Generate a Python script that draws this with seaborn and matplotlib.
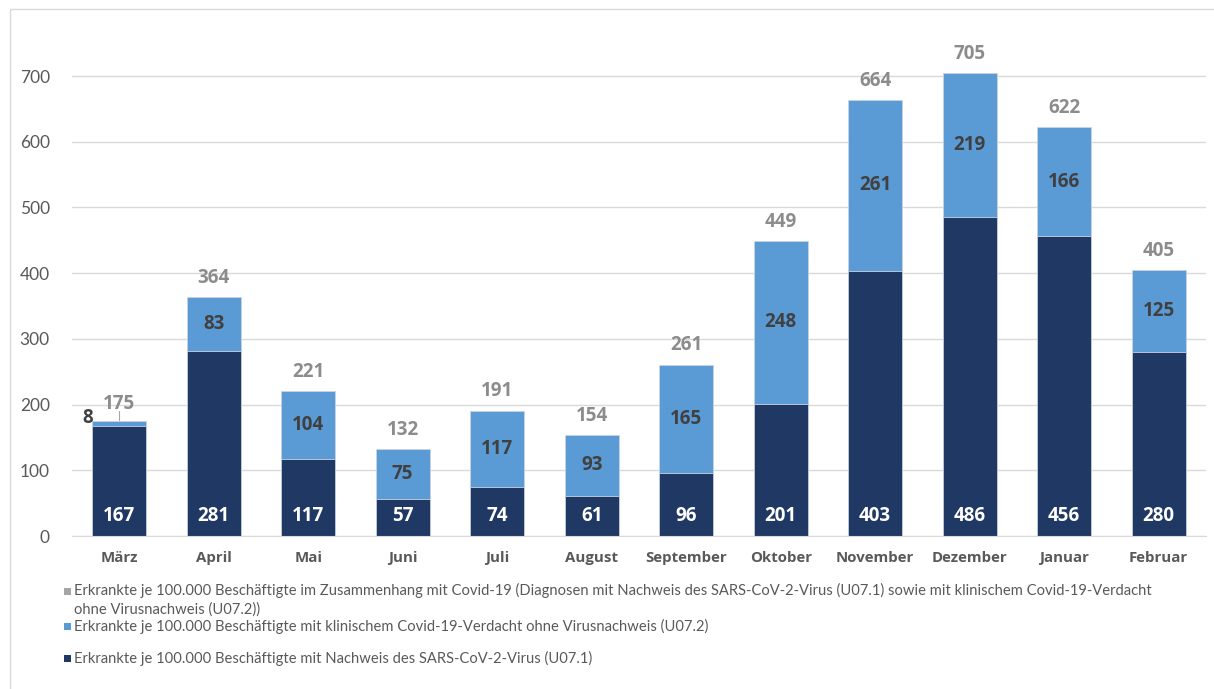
import matplotlib
matplotlib.use("Agg")
import matplotlib.pyplot as plt
import seaborn as sns
from matplotlib.patches import Rectangle

# Daten
monate = ['März', 'April', 'Mai', 'Juni', 'Juli', 'August', 'September',
          'Oktober', 'November', 'Dezember', 'Januar', 'Februar']
nachweis = [167, 281, 117, 57, 74, 61, 96, 201, 403, 486, 456, 280]      # U07.1
verdacht = [8, 83, 104, 75, 117, 93, 165, 248, 261, 219, 166, 125]      # U07.2
gesamt = [175, 364, 221, 132, 191, 154, 261, 449, 664, 705, 622, 405]

legende = [
    'Erkrankte je 100.000 Beschäftigte im Zusammenhang mit Covid-19 (Diagnosen mit Nachweis des SARS-CoV-2-Virus (U07.1) sowie mit klinischem Covid-19-Verdacht\nohne Virusnachweis (U07.2))',
    'Erkrankte je 100.000 Beschäftigte mit klinischem Covid-19-Verdacht ohne Virusnachweis (U07.2)',
    'Erkrankte je 100.000 Beschäftigte mit Nachweis des SARS-CoV-2-Virus (U07.1)',
]

dunkel = '#203864'
hell = '#5B9BD5'
grau = '#8C8C8C'

sns.set_style("white")
plt.rcParams['font.family'] = ['Lato', 'DejaVu Sans']
fett = ['Open Sans', 'DejaVu Sans']

fig = plt.figure(figsize=(12.14, 6.89), dpi=100)
ax = fig.add_axes([0.0593, 0.222, 0.934, 0.744])

# gestapelte Balken: erst Gesamt (hell), darüber Nachweis (dunkel)
sns.barplot(x=monate, y=gesamt, color=hell, width=0.57, ax=ax,
            edgecolor='#c9d3de', linewidth=0.6, saturation=1)
sns.barplot(x=monate, y=nachweis, color=dunkel, width=0.57, ax=ax,
            edgecolor='#c9d3de', linewidth=0.6, saturation=1)

ax.set_ylim(0, 780)
ax.set_xlim(-0.5, len(monate) - 0.5)
ax.set_yticks(range(0, 701, 100))
ax.yaxis.grid(True, color='#d9d9d9', linewidth=1)
ax.set_axisbelow(True)
for s in ['top', 'right', 'left']:
    ax.spines[s].set_visible(False)
ax.spines['bottom'].set_color('#d9d9d9')
ax.tick_params(axis='y', labelsize=12.5, colors='#595959', length=0, pad=16)
ax.tick_params(axis='x', length=0, pad=11)
ax.set_xticks(range(len(monate)))
ax.set_xticklabels(monate, family=fett, fontweight='bold', fontsize=10.8, color='#595959')
ax.set_xlabel('')
ax.set_ylabel('')

# Beschriftungen
opts = dict(ha='center', va='center', fontsize=13.5, fontweight='bold', family=fett)
for i in range(len(monate)):
    ax.text(i, 30, str(nachweis[i]), color='white', **opts)
    if i == 0:
        ax.text(i - 0.33, 180, str(verdacht[i]), color='#404040', **opts)
        ax.plot([i, i], [177, 190], color='#a6a6a6', linewidth=0.8)
        ax.text(i, gesamt[i] + 26, str(gesamt[i]), color=grau, **opts)
    else:
        ax.text(i, nachweis[i] + verdacht[i] / 2, str(verdacht[i]), color='#404040', **opts)
        ax.text(i, gesamt[i] + 29, str(gesamt[i]), color=grau, **opts)

# Legende
farben = ['#a5a5a5', hell, dunkel]
zeilen_y = [591, 626, 658]
for text, farbe, y in zip(legende, farben, zeilen_y):
    fy = 1 - y / 689
    fig.add_artist(Rectangle((64 / 1214, fy - 3.5 / 689), 7 / 1214, 7 / 689,
                             transform=fig.transFigure, color=farbe, lw=0))
    if '\n' in text:
        fig.text(74 / 1214, fy + 8 / 689, text, ha='left', va='top',
                 fontsize=10.6, color='#595959', linespacing=1.35)
    else:
        fig.text(74 / 1214, fy, text, ha='left', va='center',
                 fontsize=10.6, color='#595959')

# Rahmen
fig.add_artist(Rectangle((10 / 1214, -0.01), 1, 1 - 9 / 689 + 0.01,
                         transform=fig.transFigure, fill=False,
                         edgecolor='#d9d9d9', linewidth=1))

fig.savefig('out.png', dpi=100)
